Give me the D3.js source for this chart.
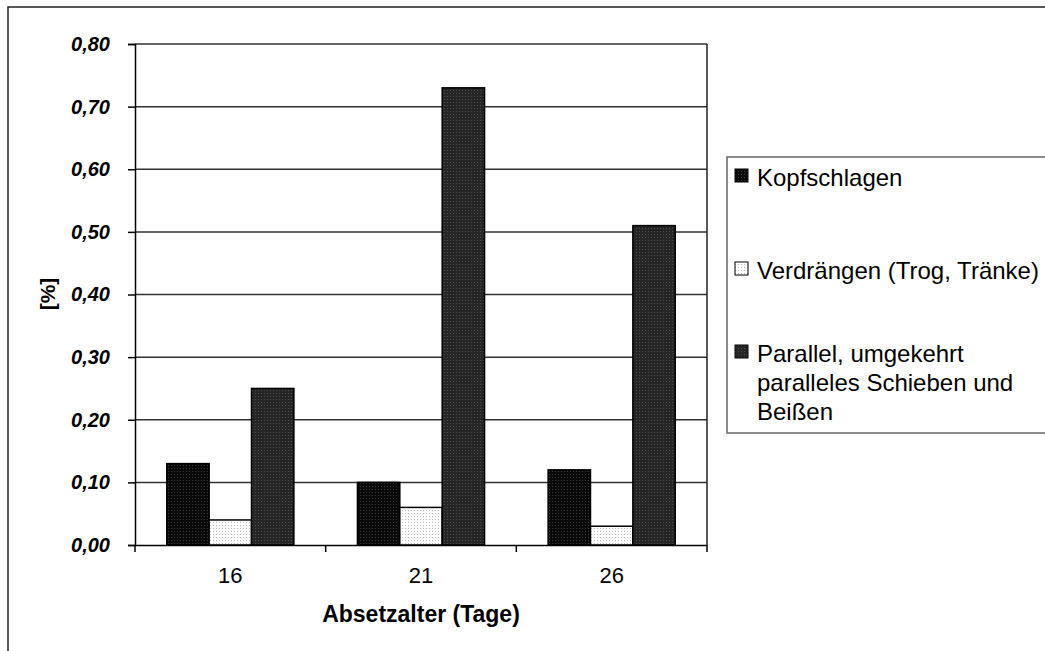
<!DOCTYPE html>
<html>
<head>
<meta charset="utf-8">
<script src="https://cdn.jsdelivr.net/npm/d3@7"></script>
<style>
  body { margin: 0; background: #fff; }
  text { font-family: "Liberation Sans", Arial, sans-serif; }
</style>
</head>
<body>
<script>
var categories = ["16", "21", "26"];
var seriesNames = ["Kopfschlagen", "Verdrängen (Trog, Tränke)", "Parallel, umgekehrt paralleles Schieben und Beißen"];
var kopfschlagen = [0.13, 0.10, 0.12];
var verdraengen = [0.04, 0.06, 0.03];
var parallel = [0.25, 0.73, 0.51];
var yTicks = [0, 0.1, 0.2, 0.3, 0.4, 0.5, 0.6, 0.7, 0.8];

function init(){
    var w = 1045, h = 651;
    var left = 135, right = 707, top = 44, bottom = 545;
    var series = [kopfschlagen, verdraengen, parallel];

    var svg = d3.select("body").append("svg")
        .attr("width", w)
        .attr("height", h);

    // dotted fills like the old excel patterns
    var defs = svg.append("defs");
    var pats = [
        {id: "p0", bg: "#0a0a0a", dot: "#3a3a3a"},
        {id: "p1", bg: "#ffffff", dot: "#bdbdbd"},
        {id: "p2", bg: "#262626", dot: "#4a4a4a"}
    ];
    pats.forEach(function(p){
        var pt = defs.append("pattern").attr("id", p.id)
            .attr("patternUnits", "userSpaceOnUse")
            .attr("width", 3).attr("height", 3);
        pt.append("rect").attr("width", 3).attr("height", 3).attr("fill", p.bg);
        pt.append("rect").attr("width", 1).attr("height", 1).attr("fill", p.dot);
    });

    // outer frame
    svg.append("rect")
        .attr("x", 8).attr("y", 7)
        .attr("width", 1100).attr("height", 700)
        .attr("fill", "none").attr("stroke", "#222").attr("stroke-width", 1.5);

    var x0 = d3.scaleBand().domain(categories).range([left, right]).paddingInner(0).paddingOuter(0);
    var x1 = d3.scaleBand().domain([0, 1, 2]).range([0, x0.bandwidth()]).paddingOuter(0.75).paddingInner(0);
    var y = d3.scaleLinear().domain([0, 0.8]).range([bottom, top]);

    // gridlines
    svg.append("g").selectAll("line")
        .data(yTicks.slice(1))
        .enter().append("line")
        .attr("x1", left).attr("x2", right)
        .attr("y1", function(d){ return y(d); })
        .attr("y2", function(d){ return y(d); })
        .attr("stroke", "#333").attr("stroke-width", 1.5);

    // plot border right
    svg.append("line")
        .attr("x1", right).attr("x2", right).attr("y1", top).attr("y2", bottom)
        .attr("stroke", "#222").attr("stroke-width", 1.5);

    // bars
    var rows = [];
    categories.forEach(function(c, i){
        series.forEach(function(s, j){
            rows.push({cat: c, s: j, v: s[i]});
        });
    });
    svg.append("g").selectAll("rect")
        .data(rows)
        .enter().append("rect")
        .attr("x", function(d){ return x0(d.cat) + x1(d.s); })
        .attr("y", function(d){ return y(d.v); })
        .attr("width", x1.bandwidth())
        .attr("height", function(d){ return y(0) - y(d.v); })
        .attr("fill", function(d){ return "url(#p" + d.s + ")"; })
        .attr("stroke", "#000").attr("stroke-width", 1.5);

    // y axis
    var yAxis = d3.axisLeft(y).tickValues(yTicks).tickSize(7)
        .tickFormat(function(d){ return d3.format(".2f")(d).replace(".", ","); });
    var gy = svg.append("g").attr("transform", "translate(" + left + ",0)").call(yAxis);
    gy.select(".domain").attr("stroke", "#000").attr("stroke-width", 1.5);
    gy.selectAll(".tick line").attr("stroke", "#000").attr("stroke-width", 1.5);
    gy.selectAll(".tick text")
        .attr("x", -25)
        .attr("font-size", 20).attr("font-weight", "bold").attr("font-style", "italic")
        .attr("fill", "#000");

    // x axis
    var xAxis = d3.axisBottom(x0).tickSize(0).tickPadding(22);
    var gx = svg.append("g").attr("transform", "translate(0," + bottom + ")").call(xAxis);
    gx.select(".domain").attr("stroke", "#000").attr("stroke-width", 1.5);
    gx.selectAll(".tick text").attr("font-size", 22).attr("fill", "#000");
    // tick marks on the band edges
    var edges = categories.map(function(c){ return x0(c); }).concat([right]);
    gx.selectAll(".edge")
        .data(edges)
        .enter().append("line")
        .attr("class", "edge")
        .attr("x1", function(d){ return d; }).attr("x2", function(d){ return d; })
        .attr("y1", 0).attr("y2", 7)
        .attr("stroke", "#000").attr("stroke-width", 1.5);

    // titles
    svg.append("text")
        .attr("x", (left + right) / 2).attr("y", 622)
        .attr("text-anchor", "middle")
        .attr("font-size", 23).attr("font-weight", "bold")
        .text("Absetzalter (Tage)");
    svg.append("text")
        .attr("transform", "translate(55,294) rotate(-90)")
        .attr("text-anchor", "middle")
        .attr("font-size", 21).attr("font-weight", "bold")
        .text("[%]");

    // legend
    var lg = svg.append("g");
    lg.append("rect")
        .attr("x", 727).attr("y", 157)
        .attr("width", 400).attr("height", 276)
        .attr("fill", "#fff").attr("stroke", "#666").attr("stroke-width", 1.5);
    var legLines = [
        [seriesNames[0]],
        [seriesNames[1]],
        ["Parallel, umgekehrt", "paralleles Schieben und", "Beißen"]
    ];
    var legY = [186, 279, 362];
    legLines.forEach(function(lines, i){
        lg.append("rect")
            .attr("x", 735).attr("y", legY[i] - 17)
            .attr("width", 13).attr("height", 13)
            .attr("fill", "url(#p" + i + ")")
            .attr("stroke", "#000").attr("stroke-width", 1);
        var t = lg.append("text")
            .attr("x", 757).attr("y", legY[i])
            .attr("font-size", 24).attr("fill", "#000");
        lines.forEach(function(l, k){
            t.append("tspan").attr("x", 757).attr("dy", k == 0 ? 0 : 29).text(l);
        });
    });
}
window.onload = init;
</script>
</body>
</html>
